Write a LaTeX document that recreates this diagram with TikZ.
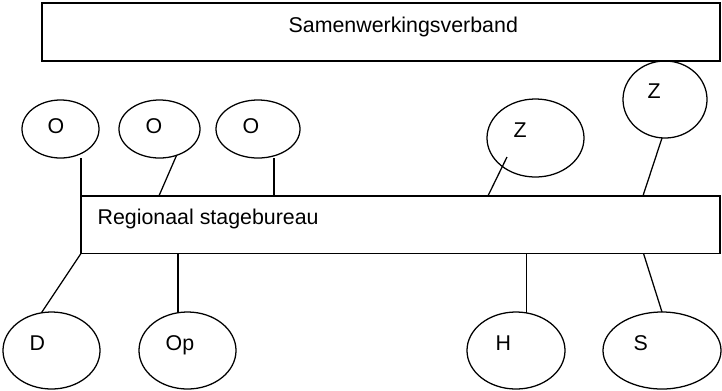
\documentclass[tikz,border=0pt]{standalone}
\usepackage{fontspec}
\setmainfont{Liberation Sans}
\usepackage{tikz}
\usetikzlibrary{shapes.geometric}

\begin{document}
\begin{tikzpicture}[x=0.025cm,y=-0.025cm,line width=0.9pt,
	font=\fontsize{15.2}{18}\selectfont,
	block/.style={draw,rectangle,inner sep=0pt,outer sep=0pt},
	bubble/.style={draw,ellipse,inner sep=0pt,outer sep=0pt},
	word/.style={anchor=base west,inner sep=0pt}]
	\useasboundingbox (0,0) rectangle (722,390);
	\node[block,minimum width=16.95cm,minimum height=1.45cm] (sv) at (381,32) {};
	\node[block,minimum width=15.975cm,minimum height=1.4375cm] (rb) at (400.5,224.75) {};
	\node[bubble,minimum width=1.925cm,minimum height=1.45cm] (o1) at (60.5,129) {};
	\node[bubble,minimum width=2.025cm,minimum height=1.45cm] (o2) at (159.5,129) {};
	\node[bubble,minimum width=2.1cm,minimum height=1.45cm] (o3) at (258,129) {};
	\node[bubble,minimum width=2.425cm,minimum height=1.95cm] (z1) at (535.5,138) {};
	\node[bubble,minimum width=2.1cm,minimum height=1.925cm] (z2) at (665,99.5) {};
	\node[bubble,minimum width=2.425cm,minimum height=1.925cm] (d) at (51.5,350.5) {};
	\node[bubble,minimum width=2.425cm,minimum height=1.925cm] (op) at (187.5,350.5) {};
	\node[bubble,minimum width=2.45cm,minimum height=1.925cm] (h) at (516,350.5) {};
	\node[bubble,minimum width=2.95cm,minimum height=1.925cm] (s) at (662,350.5) {};
	\node[word] (tsv) at (288,32) {Samenwerkingsverband};
	\node[word] (trb) at (97,224) {Regionaal stagebureau};
	\node[word] (to1) at (47,133) {O};
	\node[word] (to2) at (145,133) {O};
	\node[word] (to3) at (242,133) {O};
	\node[word] (tz1) at (513,137) {Z};
	\node[word] (tz2) at (647,98) {Z};
	\node[word] (td) at (29,350) {D};
	\node[word] (top) at (165,350) {Op};
	\node[word] (th) at (495,350) {H};
	\node[word] (ts) at (633,350) {S};
	\draw (o1.south -| rb.north west) -- (rb.north west);
	\draw (o2.-57) -- ([shift={(78,0)}]rb.north west);
	\draw ([shift={(16,0)}]o3.south) -- ([shift={(16,0)}]o3.south |- rb.north);
	\draw ([shift={(-28.5,19)}]z1.center) -- ([shift={(407,0)}]rb.north west);
	\draw ([shift={(-3,0)}]z2.south) -- ([shift={(562,0)}]rb.north west);
	\draw (rb.south west) -- (d.105);
	\draw (op.104) -- (op.104 |- rb.south);
	\draw (h.74) -- (h.74 |- rb.south);
	\draw ([shift={(562.6,0)}]rb.south west) -- (s.north);
\end{tikzpicture}
\end{document}
